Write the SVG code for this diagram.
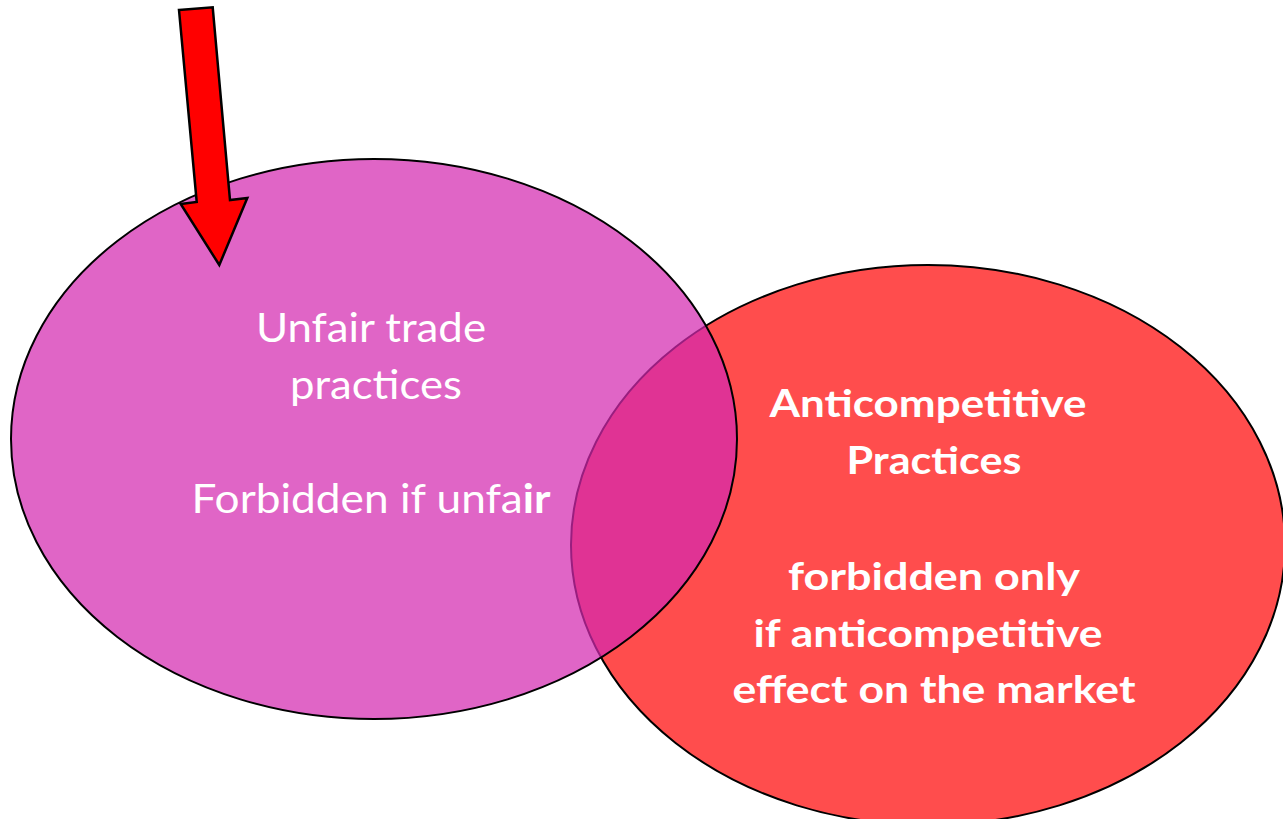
<svg xmlns="http://www.w3.org/2000/svg" width="1283" height="819" viewBox="0 0 1283 819">
<style>
.lt{font-family:Lato,"Open Sans","Liberation Sans",sans-serif;font-size:40px;fill:#fff;text-anchor:middle}
.rt{font-family:Lato,"Open Sans","Liberation Sans",sans-serif;font-size:38px;font-weight:bold;fill:#fff;text-anchor:middle}
</style>
<rect width="1283" height="819" fill="#fff"/>
<g id="anticompetitive">
<ellipse cx="928" cy="545" rx="357" ry="280" fill="#FF4D4D" stroke="#000" stroke-width="2"/>
</g>
<g id="unfair">
<ellipse cx="374" cy="439" rx="363" ry="280" fill="rgb(212,42,176)" fill-opacity="0.72" stroke="#000" stroke-width="2"/>
</g>
<g id="unfair-text">
<text class="lt" x="371" y="342" textLength="230" lengthAdjust="spacingAndGlyphs">Unfair trade</text>
<text class="lt" x="376" y="399" textLength="172" lengthAdjust="spacingAndGlyphs">practices</text>
<text class="lt" x="371" y="513" textLength="359" lengthAdjust="spacingAndGlyphs">Forbidden if unfa<tspan font-weight="bold">ir</tspan></text>
</g>
<g id="anticompetitive-text">
<text class="rt" x="928" y="417" textLength="317" lengthAdjust="spacingAndGlyphs">Anticompetitive</text>
<text class="rt" x="934" y="474" textLength="175" lengthAdjust="spacingAndGlyphs">Practices</text>
<text class="rt" x="934" y="590" textLength="292" lengthAdjust="spacingAndGlyphs">forbidden only</text>
<text class="rt" x="928" y="647" textLength="349" lengthAdjust="spacingAndGlyphs">if anticompetitive</text>
<text class="rt" x="934" y="703" textLength="403" lengthAdjust="spacingAndGlyphs">effect on the market</text>
</g>
<g id="connectors">
<polygon id="arrow" points="179,10 212.7,7.3 230,200 247.3,198 219.3,265 180.7,204 196.7,202" fill="#FF0000" stroke="#000" stroke-width="2.5" stroke-linejoin="miter"/>
</g>
</svg>
